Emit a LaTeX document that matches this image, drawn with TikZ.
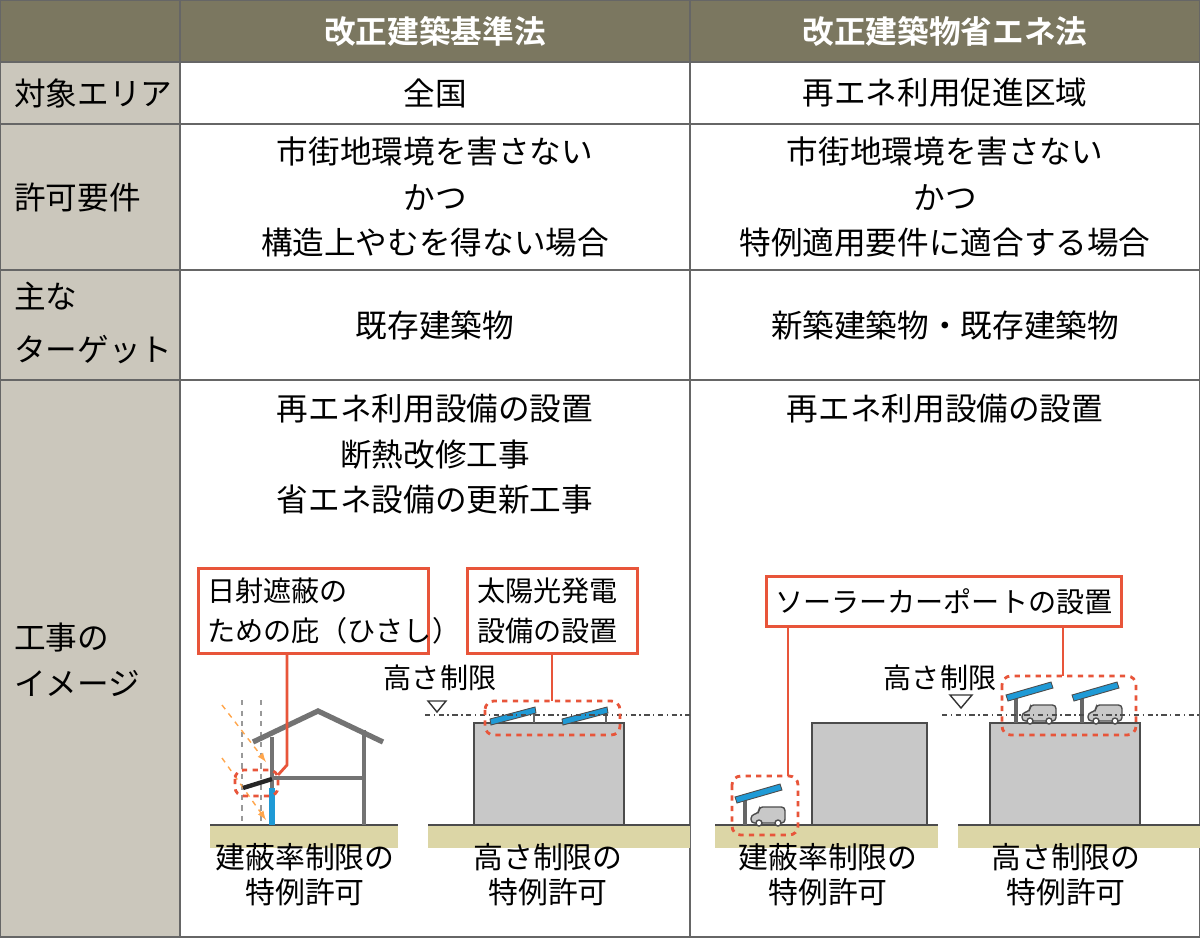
\documentclass[tikz,border=0pt]{standalone}
\usepackage{fontspec}
\setmainfont{Noto Sans CJK JP}[BoldFont={Noto Sans CJK JP Bold}]
\usetikzlibrary{positioning}
\definecolor{headolive}{HTML}{7B7760}
\definecolor{sidegray}{HTML}{CBC7BC}
\definecolor{callred}{HTML}{E8553A}
\definecolor{panelblue}{HTML}{1F9AD6}
\definecolor{bldgray}{HTML}{C8C8C8}
\definecolor{groundbeige}{HTML}{DCD6A6}
\tikzset{
  cell/.style={font=\fontsize{18}{26}\selectfont,align=center},
  sidecell/.style={cell,align=left,anchor=west},
  headcell/.style={cell,text=white,font=\fontsize{18}{26}\selectfont\bfseries},
  notecell/.style={font=\fontsize{17}{20}\selectfont,align=center},
  callout/.style={draw=callred,line width=1.6pt,fill=white,align=left,inner ysep=0pt,inner xsep=5pt,font=\fontsize{16}{23}\selectfont},
  calltag/.style={font=\fontsize{16}{20}\selectfont},
  redline/.style={callred,line width=1.6pt},
  reddash/.style={callred,line width=1.6pt,dashed,rounded corners=5pt},
  building/.style={draw=black!70,fill=bldgray,line width=0.8pt},
  ground/.style={fill=groundbeige},
  frame/.style={black!60,line width=0.8pt},
}
\newcommand{\carport}[2]{%
  \begin{scope}[shift={(#1,#2)}]
    \draw[black!60,line width=2pt] (0,0) -- (0,-30);
    \filldraw[draw=black!70,fill=panelblue,line width=0.5pt] (-8,-22) -- (37,-35) -- (35,-41) -- (-10,-28) -- cycle;
    \filldraw[draw=black!70,fill=bldgray,line width=0.8pt,rounded corners=2pt] (6,-2) -- (6,-10) -- (14,-12) -- (14,-18) -- (40,-18) -- (40,-2) -- cycle;
    \filldraw[draw=black!70,fill=white,line width=0.8pt] (14,-2) circle (3) (33,-2) circle (3);
  \end{scope}}
\newcommand{\roofpanel}[2]{%
  \begin{scope}[shift={(#1,#2)}]
    \draw[black!60,line width=1.6pt] (44,0) -- (44,-14);
    \filldraw[draw=black!70,fill=panelblue,line width=0.5pt] (0,-4) -- (45,-16) -- (46,-10) -- (1,2) -- cycle;
  \end{scope}}
\begin{document}
\begin{tikzpicture}[x=0.02cm,y=-0.02cm]
  \useasboundingbox (0,0) rectangle (1200,937);
  % backgrounds
  \fill[headolive] (0,0) rectangle (1200,62);
  \fill[sidegray] (0,62) rectangle (180,937);
  \fill[white] (180,62) rectangle (1200,937);
  % grid
  \draw[frame] (180,0) -- (180,937) (690,0) -- (690,937);
  \foreach \yy in {62,124,270,380} \draw[frame] (0,\yy) -- (1200,\yy);
  \draw[frame] (0,0) rectangle (1200,937);
  % header
  \node[headcell] (hdA) at (435,31) {改正建築基準法};
  \node[headcell] (hdB) at (945,31) {改正建築物省エネ法};
  % row labels
  \node[sidecell] (lbArea) at (8,93) {対象エリア};
  \node[sidecell] (lbReq) at (8,197) {許可要件};
  \node[sidecell,font=\fontsize{18}{30}\selectfont] (lbTarget) at (8,323) {主な\\ターゲット};
  \node[sidecell] (lbWork) at (8,660) {工事の\\イメージ};
  % cells
  \node[cell] (areaA) at (435,93) {全国};
  \node[cell] (areaB) at (945,93) {再エネ利用促進区域};
  \node[cell] (reqA) at (435,197) {市街地環境を害さない\\かつ\\構造上やむを得ない場合};
  \node[cell] (reqB) at (945,197) {市街地環境を害さない\\かつ\\特例適用要件に適合する場合};
  \node[cell] (tgtA) at (435,325) {既存建築物};
  \node[cell] (tgtB) at (945,325) {新築建築物・既存建築物};
  \node[cell,anchor=north] (workA) at (435,388) {再エネ利用設備の設置\\断熱改修工事\\省エネ設備の更新工事};
  \node[cell,anchor=north] (workB) at (945,388) {再エネ利用設備の設置};

  % left image: house
  \fill[ground] (210,825) rectangle (398,848);
  \draw[black!70,line width=0.8pt] (210,825) -- (398,825);
  \draw[black!40,line width=0.6pt,dashed] (242,700) -- (242,825) (261,700) -- (261,825);
  \draw[orange!70,line width=0.8pt,dashed,-latex] (222,705) -- (266,762);
  \draw[orange!70,line width=0.8pt,dashed,-latex] (222,758) -- (266,820);
  \draw[black!55,line width=3pt] (253,742) -- (318,711) -- (383,742);
  \draw[black!55,line width=2.5pt] (272,737) -- (272,788) (364,730) -- (364,825) (272,778) -- (364,778);
  \draw[panelblue,line width=3pt] (272,788) -- (272,825);
  \draw[black!85,line width=2.5pt] (243,788) -- (272,779);
  \draw[reddash] (235,770) rectangle (278,796);
  \node[callout,anchor=north west,minimum width=4.6cm,minimum height=1.7cm,text width=4.25cm] (cShade) at (197,567) {日射遮蔽の\\ための庇（ひさし）};
  \draw[redline] (cShade.south -| 287,0) -- (287,765) -- (278,775);
  % left image: height building
  \fill[ground] (428,825) rectangle (690,848);
  \draw[black!70,line width=0.8pt] (428,825) -- (690,825);
  \draw[building] (474,723) rectangle (624,825);
  \roofpanel{490}{723}
  \roofpanel{562}{723}
  \draw[black!70,line width=0.8pt,dash dot] (425,715) -- (690,715);
  \node[calltag] (limA) at (440,678) {高さ制限};
  \draw[black!80,line width=0.8pt] (428,701) -- (446,701) -- (437,712) -- cycle;
  \draw[reddash] (485,701) rectangle (620,735);
  \node[callout,anchor=north west,minimum width=3.4cm,minimum height=1.7cm,text width=3.0cm] (cSolar) at (466,567) {太陽光発電\\設備の設置};
  \draw[redline] (cSolar.south -| 552,0) -- (552,701);
  \node[notecell] (noteA1) at (305,875) {建蔽率制限の\\特例許可};
  \node[notecell] (noteA2) at (548,875) {高さ制限の\\特例許可};

  % right image
  \fill[ground] (715,825) rectangle (938,848);
  \draw[black!70,line width=0.8pt] (715,825) -- (938,825);
  \fill[ground] (958,825) rectangle (1200,848);
  \draw[black!70,line width=0.8pt] (958,825) -- (1200,825);
  \draw[building] (812,723) rectangle (927,825);
  \draw[building] (990,723) rectangle (1140,825);
  \carport{745}{825}
  \carport{1016}{723}
  \carport{1082}{723}
  \draw[black!70,line width=0.8pt,dash dot] (942,715) -- (1200,715);
  \node[calltag] (limB) at (940,678) {高さ制限};
  \draw[black!80,line width=0.8pt] (950,695) -- (972,695) -- (961,708) -- cycle;
  \draw[reddash] (732,776) rectangle (798,835);
  \draw[reddash] (1002,676) rectangle (1136,735);
  \node[callout,anchor=north west,minimum width=6.7cm,minimum height=1.0cm,align=center] (cPort) at (765,575) {ソーラーカーポートの設置};
  \draw[redline] (cPort.south -| 788,0) -- (788,776);
  \draw[redline] (cPort.south -| 1063,0) -- (1063,676);
  \node[notecell] (noteB1) at (828,875) {建蔽率制限の\\特例許可};
  \node[notecell] (noteB2) at (1066,875) {高さ制限の\\特例許可};
\end{tikzpicture}
\end{document}
